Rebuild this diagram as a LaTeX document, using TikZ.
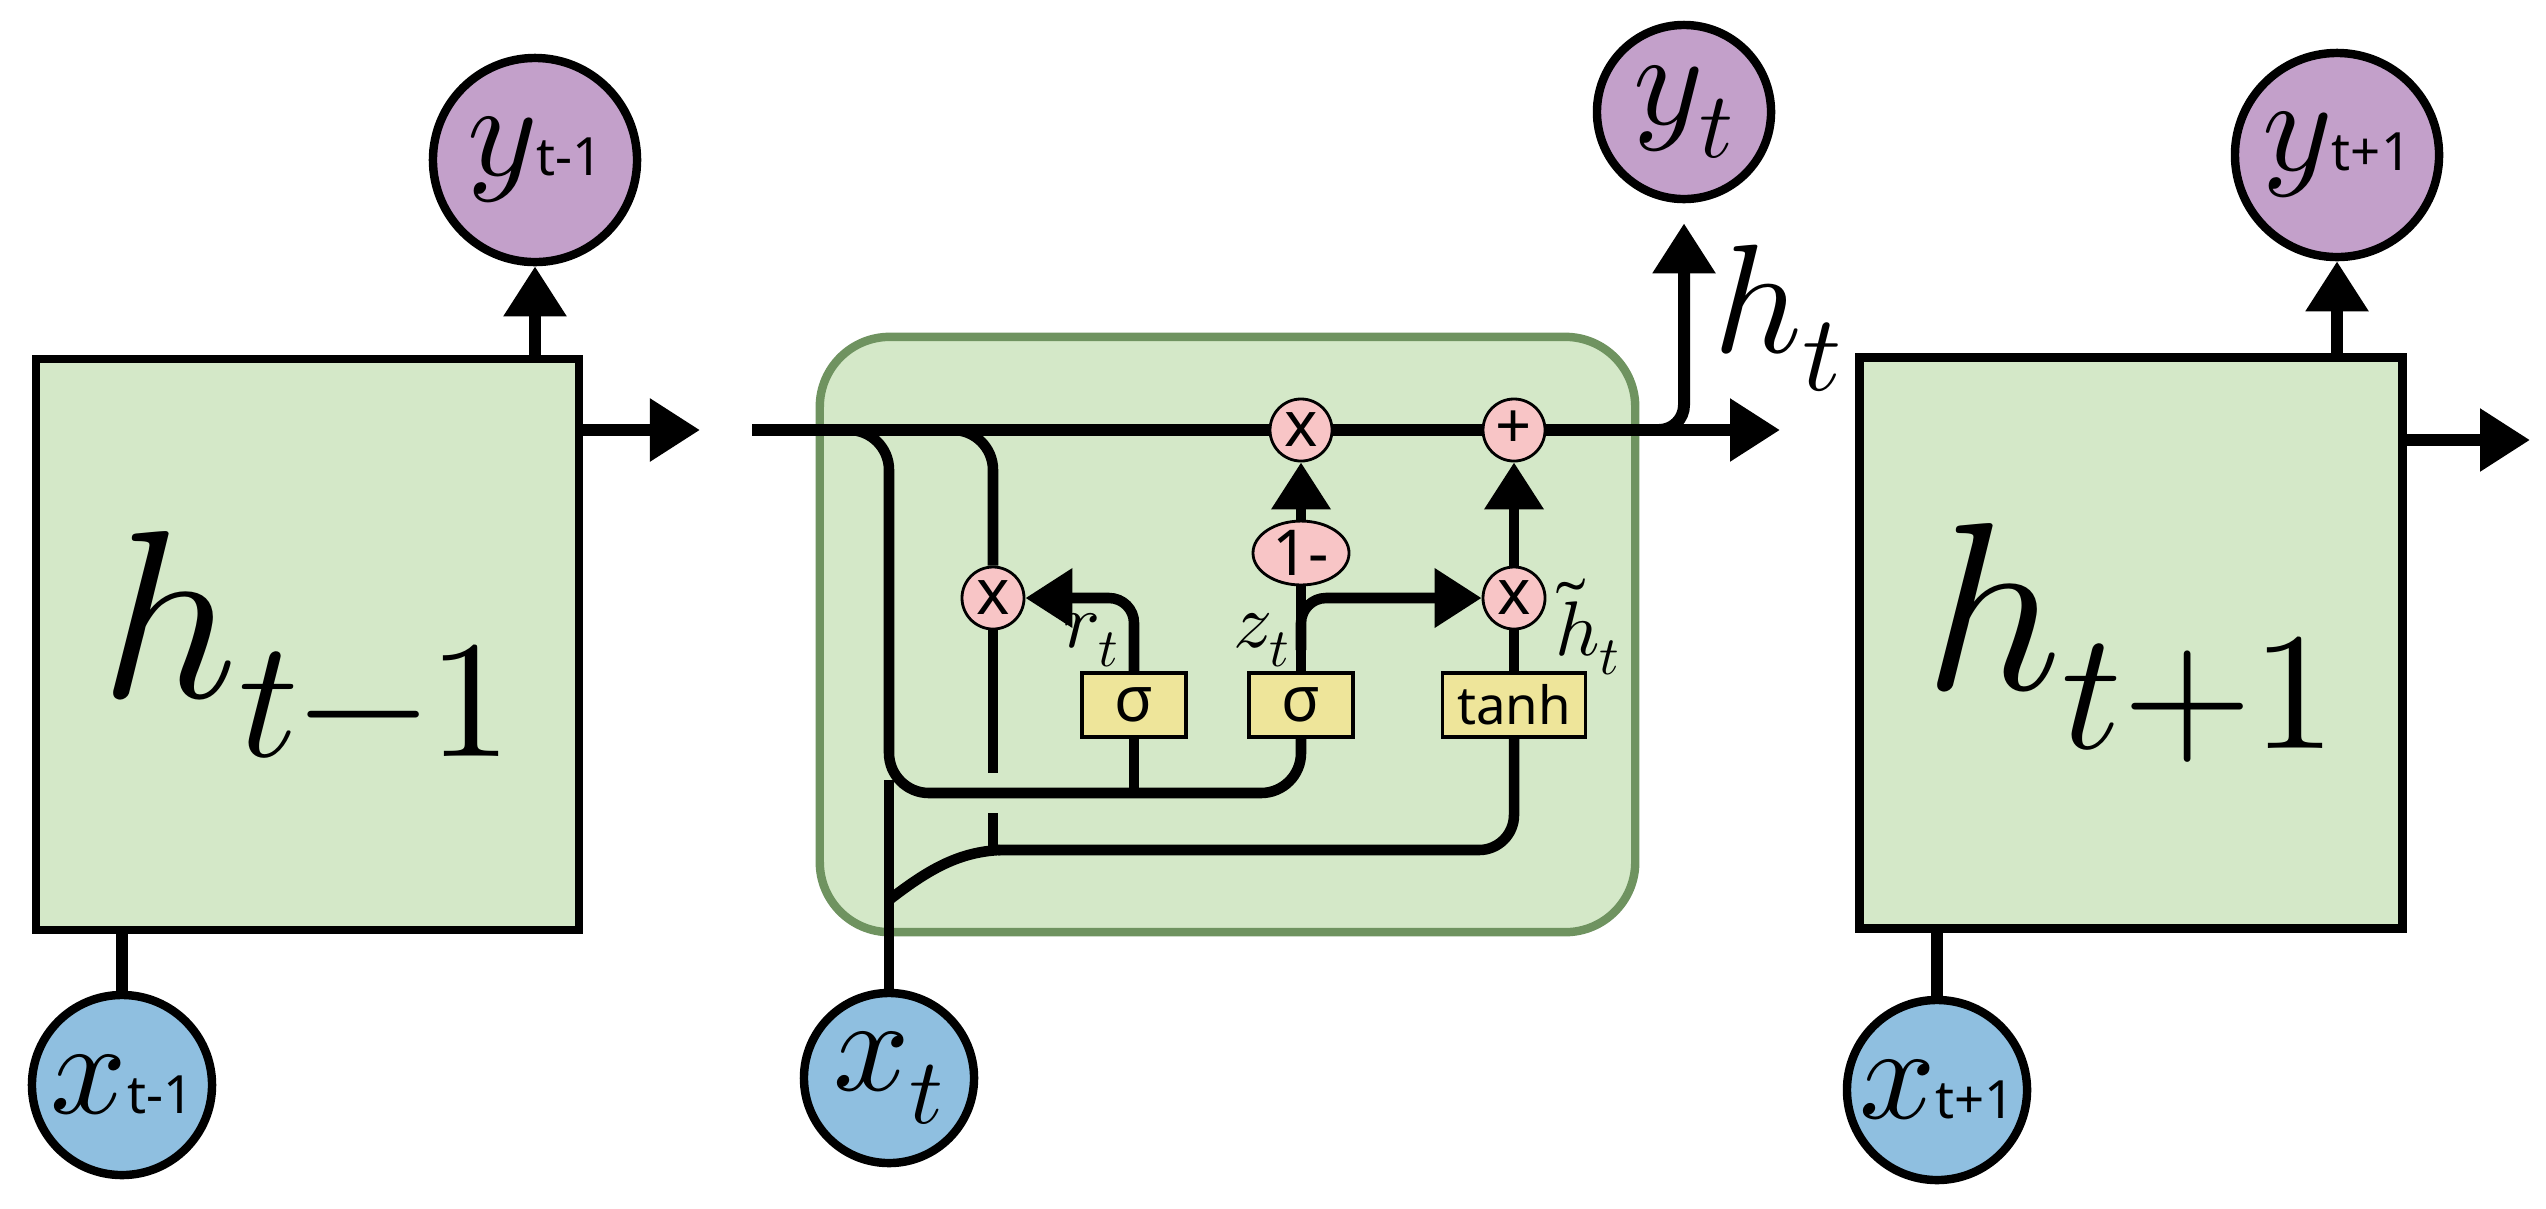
\documentclass[tikz,border=0pt]{standalone}
\usepackage{fontspec}
\usepackage{unicode-math}
\setmathfont{Latin Modern Math}
\newfontfamily\gatefont{Noto Sans}
\usetikzlibrary{arrows.meta,shapes.geometric}
\definecolor{boxg}{HTML}{D4E8C8}
\definecolor{cellb}{HTML}{6F9360}
\definecolor{ypur}{HTML}{C3A0CA}
\definecolor{xblu}{HTML}{8FBFE0}
\definecolor{gpink}{HTML}{F8C5C6}
\definecolor{gyel}{HTML}{EEE59A}
\newcommand{\subsf}[1]{{\gatefont\fontsize{15}{15}\selectfont #1}}
\begin{document}
\begin{tikzpicture}[x=0.01cm,y=-0.01cm,
  ln/.style={line width=3.4pt},
  il/.style={line width=3pt},
  arr/.style={-{Triangle[length=0.5cm,width=0.6cm]}},
  iarr/.style={-{Triangle[length=0.47cm,width=0.57cm]}},
  hbox/.style={draw,line width=2.4pt,fill=boxg,minimum width=5.43cm,minimum height=5.71cm,font=\fontsize{68}{68}\selectfont},
  ycirc/.style={circle,draw,line width=2.4pt,fill=ypur,inner sep=0pt,font=\fontsize{38}{38}\selectfont},
  xcirc/.style={circle,draw,line width=2.4pt,fill=xblu,inner sep=0pt,font=\fontsize{38}{38}\selectfont},
  gate/.style={circle,draw,line width=0.8pt,fill=gpink,minimum size=0.62cm,inner sep=0pt,font=\gatefont\fontsize{18}{18}\selectfont},
  fbox/.style={draw,line width=1pt,fill=gyel,minimum height=0.64cm,inner sep=0pt,font=\gatefont\fontsize{18}{18}\selectfont},
  lab/.style={font=\fontsize{22}{22}\selectfont}
]
\useasboundingbox (0,0) rectangle (2546,1208);
% outer cells
\node[hbox] (hprev) at (307.5,644.5) {$h_{t-1}$};
\node[hbox] (hnext) at (2131,643) {$h_{t+1}$};
\node[ycirc,minimum size=2.04cm] (yprev) at (535,160) {$y$\subsf{t-1}};
\node[ycirc,minimum size=2.04cm] (ynext) at (2337,155) {$y$\subsf{t+1}};
\node[xcirc,minimum size=1.8cm] (xprev) at (122,1085) {$x$\subsf{t-1}};
\node[xcirc,minimum size=1.8cm] (xnext) at (1937,1090) {$x$\subsf{t+1}};
\node[ycirc,minimum size=1.74cm] (yt) at (1684,112) {$y_t$};
\node[xcirc,minimum size=1.7cm] (xt) at (889,1078) {$x_t$};
\draw[ln,arr] (yprev.south |- hprev.north) -- (yprev.south);
\draw[ln,arr] (ynext.south |- hnext.north) -- (ynext.south);
\draw[ln] (xprev.north) -- (xprev.north |- hprev.south);
\draw[ln] (xnext.north) -- (xnext.north |- hnext.south);
\coordinate (pout) at (700,430);
\coordinate (nout) at (2530,440);
\draw[ln,arr] (hprev.east |- pout) -- (pout);
\draw[ln,arr] (hnext.east |- nout) -- (nout);
% GRU cell
\node[draw=cellb,line width=2.4pt,fill=boxg,rounded corners=0.7cm,minimum width=8.15cm,minimum height=5.95cm] (cell) at (1227.5,634.5) {};
\node[gate] (mul1) at (1301,430) {x};
\node[gate] (add) at (1514,430) {+};
\node[gate] (mulr) at (993,598) {x};
\node[gate] (mul2) at (1514,598) {x};
\node[ellipse,draw,line width=0.8pt,fill=gpink,minimum width=0.96cm,minimum height=0.58cm,inner sep=0pt,font=\gatefont\fontsize{18}{18}\selectfont] (one) at (1301,553) {1-};
\node[fbox,minimum width=1.04cm] (sr) at (1134,705) {σ};
\node[fbox,minimum width=1.04cm] (sz) at (1301,705) {σ};
\node[fbox,minimum width=1.43cm,font=\gatefont\fontsize{15}{15}\selectfont] (tanh) at (1514,705) {tanh};
\node[lab] (rl) at (1092,640) {$r_t$};
\node[lab] (zl) at (1262,640) {$z_t$};
\node[lab] (hl) at (1588,627) {$\tilde h_t$};
\node[font=\fontsize{44}{44}\selectfont] (htl) at (1778,318) {$h_t$};
\coordinate (hin) at (752,430);
\coordinate (hout) at (1780,430);
\draw[ln] (hin) -- (mul1.west);
\draw[ln] (mul1.east) -- (add.west);
\draw[ln,arr] (add.east) -- (hout);
\draw[ln,arr,rounded corners=0.25cm] (1640,430) -| ([yshift=-0.2cm]yt.south);
% inner wiring
\draw[il,rounded corners=0.4cm] (845,430) -| (889,793) -| (sz.south);
\draw[il] (xt.north) -- (889,780);
\draw[il] (sr.south) -- (sr.south |- 0,793);
\draw[il] (889,900) .. controls (930,868) and (960,852) .. (1000,850);
\draw[il,rounded corners=0.35cm] (998,850) -| (tanh.south);
\draw[il,rounded corners=0.4cm] (952,430) -| (mulr.north);
\draw[il] (mulr.south) -- (993,773);
\draw[il] (993,813) -- (993,852);
\draw[il,iarr,rounded corners=0.25cm] (sr.north) |- (mulr.east);
\draw[il] (sz.north) -- (one.south);
\draw[il,iarr] (one.north) -- (mul1.south);
\draw[il,iarr,rounded corners=0.25cm] (1301,650) |- (mul2.west);
\draw[il] (tanh.north) -- (mul2.south);
\draw[il,iarr] (mul2.north) -- (add.south);
\end{tikzpicture}
\end{document}
